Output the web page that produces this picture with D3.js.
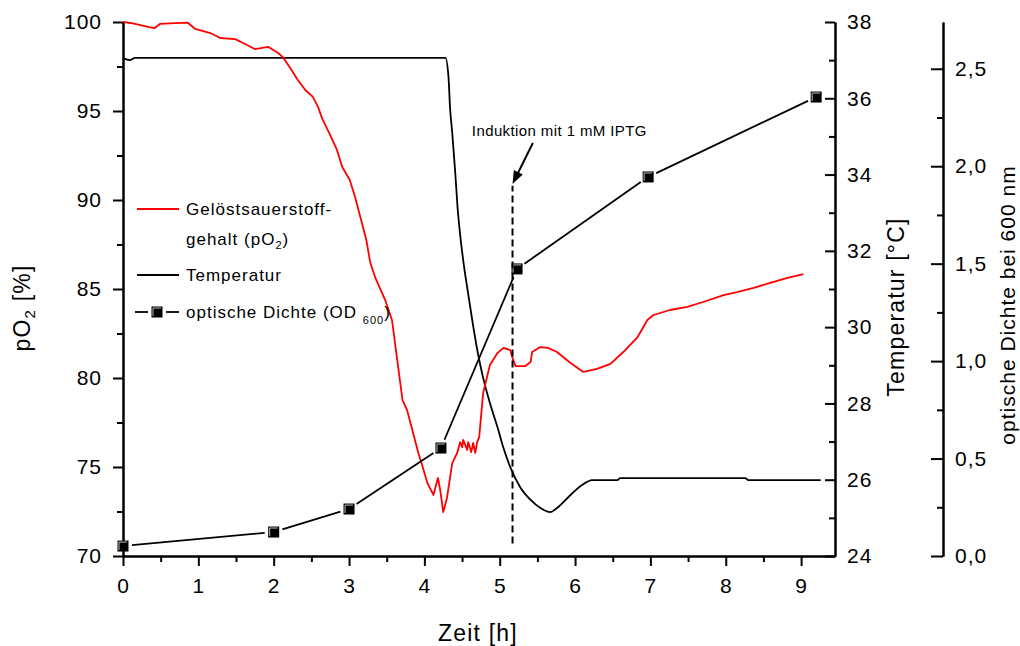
<!DOCTYPE html>
<html><head><meta charset="utf-8">
<script src="https://cdn.jsdelivr.net/npm/d3@7"></script>
<style>
body{margin:0;background:#fff}
svg{display:block;font-family:"Liberation Sans",Arial,sans-serif}
</style></head><body>
<svg id="chart" width="1020" height="646"></svg>
<script>
// Dissolved oxygen (pO2, %) over fermentation time (h)
const po2Time = [0, 0.13, 0.33, 0.42, 0.49, 0.69, 0.86, 0.96, 1.16, 1.29, 1.49, 1.62, 1.75, 1.93, 2.06, 2.12,
  2.22, 2.32, 2.42, 2.52, 2.59, 2.64, 2.75, 2.84, 2.91, 3.01, 3.08, 3.15, 3.23, 3.28, 3.35, 3.48,
  3.57, 3.64, 3.71, 3.77, 3.84, 3.92, 3.97, 4.04, 4.12, 4.18, 4.21, 4.25, 4.30, 4.37, 4.436, 4.475,
  4.502, 4.515, 4.568, 4.582, 4.622, 4.648, 4.675, 4.701, 4.728, 4.78, 4.87, 4.97, 5.05, 5.14, 5.17, 5.21,
  5.34, 5.41, 5.43, 5.54, 5.64, 5.76, 5.94, 6.11, 6.29, 6.47, 6.64, 6.83, 6.96, 7.04, 7.26, 7.49,
  7.70, 7.97, 8.15, 8.37, 8.59, 8.82, 9.03];
const po2Value = [100, 99.92, 99.72, 99.66, 99.89, 99.94, 99.96, 99.61, 99.38, 99.10, 99.04, 98.76, 98.48, 98.60, 98.26, 98.03,
  97.42, 96.74, 96.18, 95.79, 95.22, 94.61, 93.65, 92.81, 91.85, 91.12, 90.17, 89.04, 87.75, 86.52, 85.62, 84.38,
  83.26, 81.01, 78.76, 78.20, 77.08, 75.79, 75.11, 74.10, 73.43, 74.38, 73.71, 72.47, 73.26, 75.22, 75.79, 76.40,
  76.12, 76.52, 75.96, 76.40, 75.84, 76.35, 75.79, 76.40, 76.69, 79.16, 80.73, 81.40, 81.69, 81.57, 81.12, 80.67,
  80.67, 80.90, 81.46, 81.74, 81.69, 81.46, 80.84, 80.34, 80.51, 80.79, 81.46, 82.30, 83.26, 83.54, 83.82, 83.99,
  84.27, 84.66, 84.83, 85.06, 85.34, 85.62, 85.84];

// Culture temperature (°C)
const tempTime = [0, 0.09, 0.16, 4.28, 4.32, 4.34, 4.37, 4.41, 4.44, 4.475, 4.515, 4.58, 4.65, 4.71, 4.78, 4.87,
  4.97, 5.05, 5.14, 5.27, 5.41, 5.54, 5.67, 5.76, 5.94, 6.07, 6.23, 6.56, 6.60, 8.26, 8.30, 9.26];
const tempValue = [37.06, 37.0, 37.06, 37.06, 36.56, 35.77, 35.09, 34.04, 33.15, 32.42, 31.76, 30.89, 30.00, 29.32, 28.67, 28.01,
  27.38, 26.83, 26.33, 25.81, 25.47, 25.26, 25.15, 25.26, 25.60, 25.83, 25.99, 25.99, 26.04, 26.04, 25.99, 25.99];

// Optical density at 600 nm
const odTime = [0, 2, 3, 4.22, 5.23, 6.97, 9.2];
const odValue = [0.051, 0.123, 0.241, 0.554, 1.473, 1.945, 2.355];

// IPTG induction
const inductionTime = 5.17;
const inductionText = "Induktion mit 1 mM IPTG";

// Tick values
const timeTicks = [0, 1, 2, 3, 4, 5, 6, 7, 8, 9];
const timeMinor = [0.5, 1.5, 2.5, 3.5, 4.5, 5.5, 6.5, 7.5, 8.5];
const po2Ticks = [70, 75, 80, 85, 90, 95, 100];
const po2Minor = [72.5, 77.5, 82.5, 87.5, 92.5, 97.5];
const tempTicks = [24, 26, 28, 30, 32, 34, 36, 38];
const tempMinor = [25, 27, 29, 31, 33, 35, 37];
const odTicks = [0, 0.5, 1.0, 1.5, 2.0, 2.5];
const odMinor = [0.25, 0.75, 1.25, 1.75, 2.25];

const svg = d3.select("#chart");
svg.append("rect").attr("width", 1020).attr("height", 646).attr("fill", "#fff");

const x = d3.scaleLinear().domain([0, 9.45]).range([123, 835]);
const yP = d3.scaleLinear().domain([70, 100]).range([556, 22]);
const yT = d3.scaleLinear().domain([24, 38]).range([556, 22]);
const yOD = d3.scaleLinear().domain([0, 2.74]).range([556, 22]);

const comma = v => d3.format(".1f")(v).replace(".", ",");

function styleAxis(g, fs) {
  g.selectAll("path.domain").attr("stroke", "#000").attr("stroke-width", 2);
  g.selectAll(".tick line").attr("stroke", "#000").attr("stroke-width", 2);
  g.selectAll("text").attr("fill", "#000").style("font-size", fs + "px").style("letter-spacing", "1px")
    .style("font-family", '"Liberation Sans", Arial, sans-serif');
}

// bottom time axis
const gx = svg.append("g").attr("transform", "translate(0,556)");
gx.call(d3.axisBottom(x).tickValues(timeTicks).tickSize(10).tickSizeOuter(0).tickPadding(12).tickFormat(d3.format("d")));
styleAxis(gx, 21);
const gxm = svg.append("g").attr("transform", "translate(0,556)");
gxm.call(d3.axisBottom(x).tickValues(timeMinor).tickSize(6).tickSizeOuter(0).tickFormat(""));
styleAxis(gxm, 21);

// left pO2 axis
const gy = svg.append("g").attr("transform", "translate(123,0)");
gy.call(d3.axisLeft(yP).tickValues(po2Ticks).tickSize(10).tickSizeOuter(0).tickPadding(11).tickFormat(d3.format("d")));
styleAxis(gy, 21);
const gym = svg.append("g").attr("transform", "translate(123,0)");
gym.call(d3.axisLeft(yP).tickValues(po2Minor).tickSize(6).tickSizeOuter(0).tickFormat(""));
styleAxis(gym, 21);

// temperature axis
const gt = svg.append("g").attr("transform", "translate(835,0)");
gt.call(d3.axisRight(yT).tickValues(tempTicks).tickSize(-10).tickSizeOuter(0).tickPadding(12).tickFormat(d3.format("d")));
styleAxis(gt, 21);
const gtm = svg.append("g").attr("transform", "translate(835,0)");
gtm.call(d3.axisRight(yT).tickValues(tempMinor).tickSize(-6).tickSizeOuter(0).tickFormat(""));
styleAxis(gtm, 21);

// OD axis
const go = svg.append("g").attr("transform", "translate(943,0)");
go.call(d3.axisRight(yOD).tickValues(odTicks).tickSize(-12).tickSizeOuter(0).tickPadding(12).tickFormat(comma));
styleAxis(go, 21);
const gom = svg.append("g").attr("transform", "translate(943,0)");
gom.call(d3.axisRight(yOD).tickValues(odMinor).tickSize(-6).tickSizeOuter(0).tickFormat(""));
styleAxis(gom, 21);

// axis titles
const title = (sel) => sel.attr("fill", "#000").style("font-size", "23px").style("letter-spacing", "1.2px");
const tp = svg.append("text").attr("transform", "translate(30,308) rotate(-90)").attr("text-anchor", "middle").call(title);
tp.append("tspan").text("pO");
tp.append("tspan").text("2").style("font-size", "15px").attr("dy", 5);
tp.append("tspan").text(" [%]").attr("dy", -5);

svg.append("text").attr("x", 478).attr("y", 641).attr("text-anchor", "middle").call(title).text("Zeit [h]");
svg.append("text").attr("transform", "translate(904,307) rotate(-90)").attr("text-anchor", "middle").call(title).text("Temperatur [°C]");
svg.append("text").attr("transform", "translate(1015,305) rotate(-90)").attr("text-anchor", "middle").call(title)
  .style("font-size", "21px").style("letter-spacing", "1px").text("optische Dichte bei 600 nm");

// temperature curve
svg.append("path")
  .datum(d3.zip(tempTime, tempValue))
  .attr("fill", "none").attr("stroke", "#000").attr("stroke-width", 1.8).attr("stroke-linejoin", "round")
  .attr("d", d3.line().curve(d3.curveMonotoneX).x(d => x(d[0])).y(d => yT(d[1])));

// pO2 curve
svg.append("path")
  .datum(d3.zip(po2Time, po2Value))
  .attr("fill", "none").attr("stroke", "#ff0000").attr("stroke-width", 1.8).attr("stroke-linejoin", "round")
  .attr("d", d3.line().x(d => x(d[0])).y(d => yP(d[1])));

// OD: segments with gaps around the markers
const odPts = d3.zip(odTime, odValue).map(d => [x(d[0]), yOD(d[1])]);
const gap = 9;
for (let i = 0; i < odPts.length - 1; i++) {
  const [x0, y0] = odPts[i], [x1, y1] = odPts[i + 1];
  const len = Math.hypot(x1 - x0, y1 - y0);
  const ux = (x1 - x0) / len, uy = (y1 - y0) / len;
  svg.append("line")
    .attr("x1", x0 + ux * gap).attr("y1", y0 + uy * gap)
    .attr("x2", x1 - ux * gap).attr("y2", y1 - uy * gap)
    .attr("stroke", "#000").attr("stroke-width", 1.8);
}
function marker(g, cx, cy) {
  g.append("rect").attr("x", cx - 5.5).attr("y", cy - 5.5).attr("width", 11).attr("height", 11).attr("fill", "#000");
  g.append("path").attr("d", `M${cx - 4},${cy + 4}V${cy - 4}H${cx + 4}`)
    .attr("fill", "none").attr("stroke", "#bbb").attr("stroke-width", 1);
}
odPts.forEach(p => marker(svg, p[0], p[1]));

// induction marker
svg.append("line")
  .attr("x1", x(inductionTime)).attr("x2", x(inductionTime))
  .attr("y1", yP(70.7)).attr("y2", yP(90.8))
  .attr("stroke", "#000").attr("stroke-width", 2).attr("stroke-dasharray", "7,4");
const ax0 = x(5.44), ay0 = yP(93.2), ax1 = x(inductionTime), ay1 = yP(90.9);
const ang = Math.atan2(ay1 - ay0, ax1 - ax0);
const hl = 13, hw = 5;
svg.append("line").attr("x1", ax0).attr("y1", ay0)
  .attr("x2", ax1 - Math.cos(ang) * hl * 0.8).attr("y2", ay1 - Math.sin(ang) * hl * 0.8)
  .attr("stroke", "#000").attr("stroke-width", 2);
const bx = ax1 - Math.cos(ang) * hl, by = ay1 - Math.sin(ang) * hl;
svg.append("path")
  .attr("d", `M${ax1},${ay1}L${bx - Math.sin(ang) * hw},${by + Math.cos(ang) * hw}L${bx + Math.sin(ang) * hw},${by - Math.cos(ang) * hw}Z`)
  .attr("fill", "#000");
svg.append("text").attr("x", x(4.63)).attr("y", yP(93.6))
  .attr("fill", "#000").style("font-size", "15px").style("letter-spacing", "0.4px").text(inductionText);

// legend
const lg = svg.append("g").style("font-size", "17px").style("letter-spacing", "1px").attr("fill", "#000");
lg.append("line").attr("x1", 137).attr("x2", 179).attr("y1", 209).attr("y2", 209).attr("stroke", "#ff0000").attr("stroke-width", 1.8);
lg.append("text").attr("x", 186).attr("y", 215).text("Gelöstsauerstoff-");
const t2 = lg.append("text").attr("x", 186).attr("y", 245);
t2.append("tspan").text("gehalt (pO");
t2.append("tspan").text("2").style("font-size", "11px").attr("dy", 4);
t2.append("tspan").text(")").attr("dy", -4);
lg.append("line").attr("x1", 137).attr("x2", 179).attr("y1", 275).attr("y2", 275).attr("stroke", "#000").attr("stroke-width", 1.8);
lg.append("text").attr("x", 186).attr("y", 281).text("Temperatur");
lg.append("line").attr("x1", 135).attr("x2", 148).attr("y1", 312).attr("y2", 312).attr("stroke", "#000").attr("stroke-width", 1.8);
lg.append("line").attr("x1", 166).attr("x2", 179).attr("y1", 312).attr("y2", 312).attr("stroke", "#000").attr("stroke-width", 1.8);
marker(lg, 157, 312);
const t4 = lg.append("text").attr("x", 186).attr("y", 318);
t4.append("tspan").text("optische Dichte (OD ");
t4.append("tspan").text("600").style("font-size", "11px").attr("dy", 6);
t4.append("tspan").text(")").attr("dy", -6);
</script>
</body></html>
